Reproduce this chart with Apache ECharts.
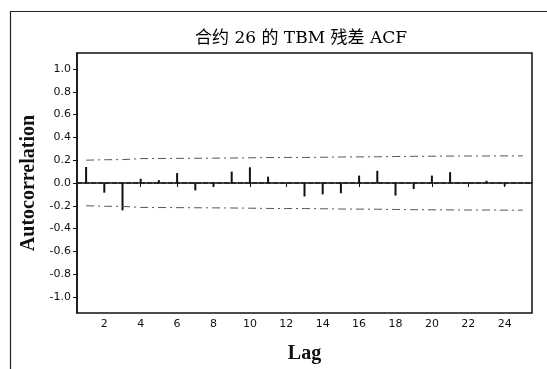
<!DOCTYPE html>
<html>
<head>
<meta charset="utf-8">
<script src="https://cdn.jsdelivr.net/npm/echarts@6/dist/echarts.min.js"></script>
<style>html,body{margin:0;padding:0;background:#fff;}#c{width:547px;height:369px;}</style>
</head>
<body>
<div id="c"></div>
<script>
const titleText = '合约 26 的 TBM 残差 ACF';
const lags = [1,2,3,4,5,6,7,8,9,10,11,12,13,14,15,16,17,18,19,20,21,22,23,24,25];
const acf = [0.14,-0.085,-0.24,0.037,0.025,0.087,-0.065,-0.034,0.10,0.138,0.056,0.0,-0.118,-0.10,-0.09,0.065,0.107,-0.11,-0.053,0.065,0.095,0.005,0.02,-0.025,0.0];
const upperLimit = [0.200,0.204,0.205,0.214,0.215,0.216,0.217,0.218,0.219,0.221,0.223,0.224,0.224,0.226,0.228,0.229,0.230,0.232,0.234,0.235,0.236,0.237,0.237,0.238,0.238];
const lowerLimit = [-0.200,-0.204,-0.205,-0.214,-0.215,-0.216,-0.217,-0.218,-0.219,-0.221,-0.223,-0.224,-0.224,-0.226,-0.228,-0.229,-0.230,-0.232,-0.234,-0.235,-0.236,-0.237,-0.237,-0.238,-0.238];
const xTicks = [2,4,6,8,10,12,14,16,18,20,22,24];
const yTicks = [-1.0,-0.8,-0.6,-0.4,-0.2,0.0,0.2,0.4,0.6,0.8,1.0];
const xRange = [0.5, 25.5];
const yRange = [-1.14, 1.14];

const chart = echarts.init(document.getElementById('c'), null, {renderer:'canvas'});
const tickFont = {color:'#111', fontSize:11, fontFamily:'DejaVu Sans'};
chart.setOption({
  animation:false,
  backgroundColor:'#fff',
  title:{text:titleText, left:296, textAlign:'center', top:25,
    textStyle:{fontFamily:'DejaVu Serif, Noto Sans CJK SC', fontSize:17, fontWeight:'normal', color:'#000'}},
  graphic:[{type:'polyline', shape:{points:[[10.5,369],[10.5,11.5],[547,11.5]]}, style:{stroke:'#222', lineWidth:1.2, fill:null}, silent:true}],
  grid:{left:77, top:53, width:455, height:269, show:true, borderColor:'#111', borderWidth:1.5, containLabel:false},
  xAxis:{type:'value', min:xRange[0], max:xRange[1],
    name:'Lag', nameLocation:'middle', nameGap:31,
    nameTextStyle:{fontFamily:'Liberation Serif', fontSize:20, fontWeight:'bold', color:'#111'},
    axisLine:{show:true, lineStyle:{color:'#111', width:1.5}},
    axisTick:{show:true, length:4, customValues:xTicks, lineStyle:{color:'#111'}},
    axisLabel:{customValues:xTicks, margin:6, ...tickFont},
    splitLine:{show:false}},
  yAxis:{type:'value', min:yRange[0], max:yRange[1],
    name:'Autocorrelation', nameLocation:'middle', nameGap:35,
    nameTextStyle:{fontFamily:'Liberation Serif', fontSize:20, fontWeight:'bold', color:'#111'},
    axisLine:{show:true, lineStyle:{color:'#111', width:1.5}},
    axisTick:{show:true, length:4, customValues:yTicks, lineStyle:{color:'#111'}},
    axisLabel:{customValues:yTicks, margin:6, formatter:v=>v.toFixed(1), ...tickFont},
    splitLine:{show:false}},
  series:[
    {type:'line', data:[[xRange[0],0],[xRange[1],0]], symbol:'none', lineStyle:{color:'#222', width:1.3, type:[5,2]}, z:2},
    {type:'line', data:lags.map((l,i)=>[l,upperLimit[i]]), symbol:'none', lineStyle:{color:'#555', width:1, type:[8,4,2,4]}},
    {type:'line', data:lags.map((l,i)=>[l,lowerLimit[i]]), symbol:'none', lineStyle:{color:'#555', width:1, type:[8,4,2,4]}},
    {type:'bar', data:lags.map((l,i)=>[l,acf[i]]), barWidth:2, itemStyle:{color:'#111'}, z:3}
  ]
});
</script>
</body>
</html>
